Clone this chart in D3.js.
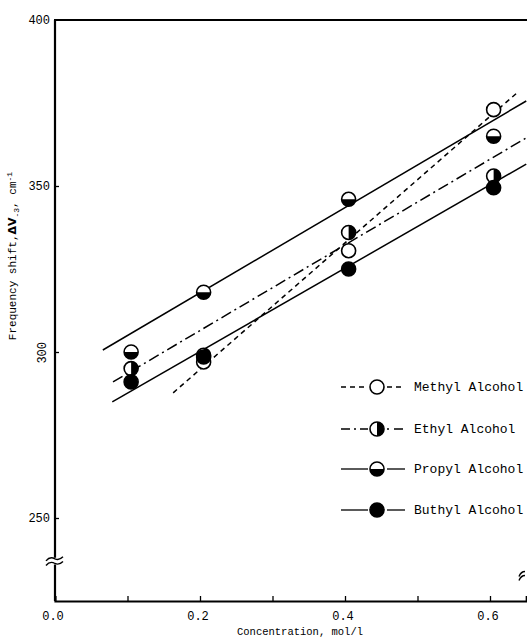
<!DOCTYPE html>
<html>
<head>
<meta charset="utf-8">
<script src="https://cdn.jsdelivr.net/npm/d3@7"></script>
<style>
  body { margin: 0; background: #fff; }
  svg text { font-family: "Liberation Mono", "DejaVu Sans Mono", monospace; fill: #000; }
</style>
</head>
<body>
<div id="chart"></div>
<script>
// ===== DATA =====
const concentrations = [0.105, 0.205, 0.405, 0.605];

const methylShift = [null, 297, 330.5, 373];
const ethylShift  = [295, 299, 336, 353];
const propylShift = [300, 318, 346, 365];
const buthylShift = [291, 298.5, 325, 349.5];

// fitted lines: [x0, y0, x1, y1] in data units
const methylFit = [0.163, 287.7, 0.637, 378];
const ethylFit  = [0.08, 291, 0.65, 364.5];
const propylFit = [0.066, 300.6, 0.65, 375.6];
const buthylFit = [0.079, 285, 0.65, 356.6];

const seriesNames = ['Methyl Alcohol', 'Ethyl Alcohol', 'Propyl Alcohol', 'Buthyl Alcohol'];
const xTickLabels = ['0.0', '0.2', '0.4', '0.6'];
const yTickLabels = ['250', '300', '350', '400'];

const W = 527, H = 641;

const svg = d3.select('#chart').append('svg')
  .attr('width', W)
  .attr('height', H);

// scales - plot is cropped on the right, like the scan
const x = d3.scaleLinear().domain([0, 0.65]).range([55, 526.25]);
const y = d3.scaleLinear().domain([225, 400]).range([601, 20]);

const series = [
  { name: seriesNames[0], values: methylShift, fit: methylFit, dash: '5,4', fill: 'open' },
  { name: seriesNames[1], values: ethylShift, fit: ethylFit, dash: '11,4,2,4', fill: 'right' },
  { name: seriesNames[2], values: propylShift, fit: propylFit, dash: null, fill: 'bottom' },
  { name: seriesNames[3], values: buthylShift, fit: buthylFit, dash: null, fill: 'full' }
];

const R = 7;
const halfArc = d3.arc().innerRadius(0).outerRadius(R);

function drawMarker(g, cx, cy, kind) {
  const m = g.append('g').attr('transform', `translate(${cx},${cy})`);
  m.append('circle')
    .attr('r', R)
    .attr('fill', kind === 'full' ? '#000' : '#fff')
    .attr('stroke', '#000')
    .attr('stroke-width', 1.6);
  if (kind === 'bottom') {
    m.append('path').attr('d', halfArc({ startAngle: Math.PI / 2, endAngle: 3 * Math.PI / 2 }));
  } else if (kind === 'right') {
    m.append('path').attr('d', halfArc({ startAngle: 0, endAngle: Math.PI }));
  }
}

// ===== AXES =====
const xAxis = d3.axisBottom(x)
  .tickValues([0.1, 0.2, 0.3, 0.4, 0.5, 0.6])
  .tickSize(-5)
  .tickFormat('');

svg.append('g')
  .attr('transform', `translate(0,${y(225)})`)
  .call(xAxis)
  .call(g => g.select('.domain').attr('stroke-width', 2.2))
  .call(g => g.selectAll('.tick line').attr('stroke-width', 1.3));

// left axis with a break below 250
const yAxis = d3.axisLeft(y)
  .tickValues([250, 300, 350])
  .tickSize(-4)
  .tickFormat('');

svg.append('g')
  .attr('transform', `translate(${x(0)},0)`)
  .call(yAxis)
  .call(g => g.select('.domain').remove())
  .call(g => g.selectAll('.tick line').attr('stroke-width', 1.3));

const axisLine = svg.append('g').attr('stroke', '#000').attr('stroke-width', 2.2).attr('fill', 'none');
axisLine.append('line')
  .attr('x1', x(0)).attr('x2', x(0))
  .attr('y1', y(400)).attr('y2', y(238));
axisLine.append('line')
  .attr('x1', x(0)).attr('x2', x(0))
  .attr('y1', y(236)).attr('y2', y(225));
// top frame
axisLine.append('line')
  .attr('x1', x(0) - 1).attr('x2', W)
  .attr('y1', y(400)).attr('y2', y(400));

// break marks
const brk = svg.append('g').attr('stroke', '#000').attr('stroke-width', 1.4).attr('fill', 'none');
[y(238) + 1, y(236) - 1].forEach(by => {
  brk.append('path')
    .attr('d', `M${x(0) - 9},${by + 2} q4,-5 9,-2 q4,2 8,-2`);
});
[y(233), y(233) + 4].forEach(by => {
  brk.append('path')
    .attr('d', `M${x(0.64)},${by + 2} q2,-5 6,-5`);
});

// tick labels
svg.append('g').selectAll('text')
  .data(xTickLabels)
  .join('text')
  .attr('x', d => x(+d) - 2)
  .attr('y', 620)
  .attr('text-anchor', 'middle')
  .attr('font-size', 12)
  .text(d => d);

svg.append('g').selectAll('text')
  .data(yTickLabels)
  .join('text')
  .attr('text-anchor', 'end')
  .attr('font-size', 12)
  .attr('transform', d => d === '300'
    ? `translate(46,${y(+d)}) rotate(-90)`
    : `translate(50,${y(+d) + 4})`)
  .attr('dx', d => d === '300' ? 10 : 0)
  .text(d => d);

// axis titles
svg.append('text')
  .attr('x', 300)
  .attr('y', 635)
  .attr('text-anchor', 'middle')
  .attr('font-size', 10.5)
  .text('Concentration, mol/l');

const yTitle = svg.append('text')
  .attr('transform', `translate(16,${256}) rotate(-90)`)
  .attr('text-anchor', 'middle')
  .attr('font-size', 11);
yTitle.append('tspan').text('Frequency shift,');
yTitle.append('tspan').attr('font-weight', 'bold').attr('font-family', 'DejaVu Sans').text('ΔV');
yTitle.append('tspan').attr('font-size', 8).attr('dy', 3).text('-3');
yTitle.append('tspan').attr('dy', -3).text(', cm');
yTitle.append('tspan').attr('font-size', 8).attr('dy', -4).text('-1');

// ===== FIT LINES =====
svg.append('g').selectAll('line')
  .data(series)
  .join('line')
  .attr('x1', d => x(d.fit[0]))
  .attr('y1', d => y(d.fit[1]))
  .attr('x2', d => x(d.fit[2]))
  .attr('y2', d => y(d.fit[3]))
  .attr('stroke', '#000')
  .attr('stroke-width', 1.5)
  .attr('stroke-dasharray', d => d.dash);

// ===== MARKERS =====
const marks = svg.append('g');
series.forEach(s => {
  s.values.forEach((v, i) => {
    if (v == null) return;
    drawMarker(marks, x(concentrations[i]), y(v), s.fill);
  });
});

// ===== LEGEND =====
const legendY = [387, 429, 469, 510];
const legendDash = [['5,4', '5,4'], ['9,4,2,4', '2,5,9,4'], [null, null], [null, null]];
const legend = svg.append('g');
series.forEach((s, i) => {
  const g = legend.append('g').attr('transform', `translate(0,${legendY[i]})`);
  g.append('line')
    .attr('x1', 341).attr('x2', 368)
    .attr('stroke', '#000').attr('stroke-width', 1.3)
    .attr('stroke-dasharray', legendDash[i][0]);
  g.append('line')
    .attr('x1', 387).attr('x2', 405)
    .attr('stroke', '#000').attr('stroke-width', 1.3)
    .attr('stroke-dasharray', legendDash[i][1]);
  drawMarker(g, 377, 0, s.fill);
  g.append('text')
    .attr('x', 414)
    .attr('y', 4)
    .attr('font-size', 13)
    .text(s.name);
});
</script>
</body>
</html>
